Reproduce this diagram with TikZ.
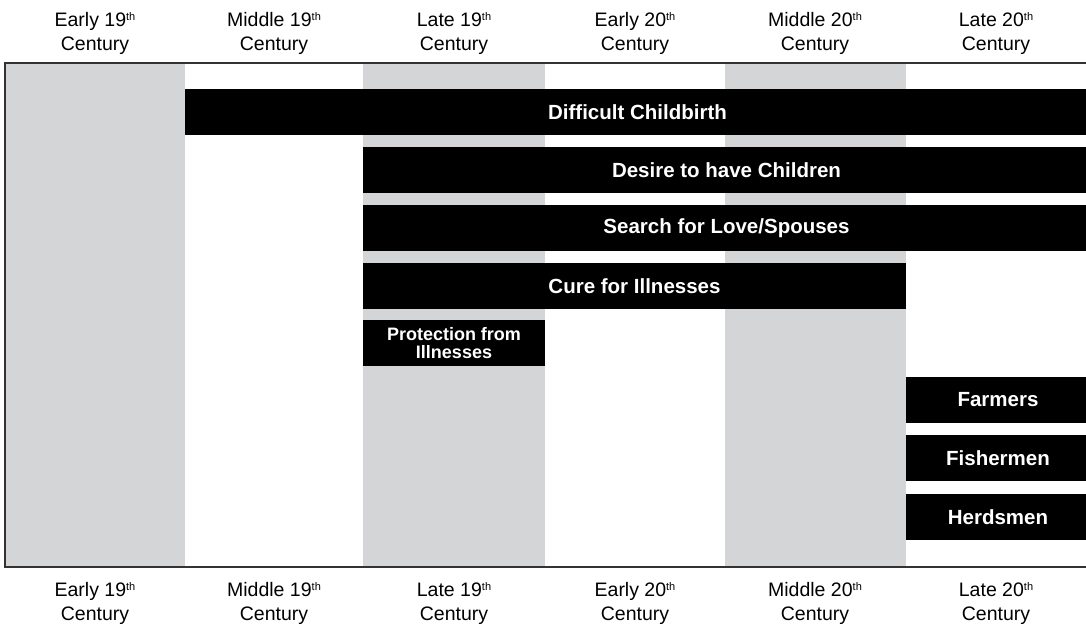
\documentclass[tikz,border=0pt]{standalone}
\usepackage{fontspec}
\setmainfont{Liberation Sans}
\definecolor{band}{HTML}{D4D5D7}
\definecolor{frame}{HTML}{333333}
\newcommand{\thsup}{\raisebox{6.5pt}{\fontsize{11}{11}\selectfont th}}
\begin{document}
\begin{tikzpicture}[x=1pt,y=-1pt,
  bar/.style={fill=black,text=white,inner sep=0pt,outer sep=0pt,anchor=north west,
    font=\fontsize{20.5}{22}\selectfont\bfseries,align=center,minimum height=46pt},
  smallbar/.style={bar,font=\fontsize{18}{18}\selectfont\bfseries},
  lab/.style={font=\fontsize{19.5}{24}\selectfont,align=center,inner sep=0pt}]
\useasboundingbox (0,0) rectangle (1086,625);
% bands
\fill[band] (5,63) rectangle (185,567);
\fill[band] (363,63) rectangle (545,567);
\fill[band] (725,63) rectangle (906,567);
% frame
\draw[frame,line width=1.5pt] (1090,63) -- (5,63) -- (5,567) -- (1090,567);
% bars
\node[bar,minimum width=905pt] (b1) at (185,89) {Difficult Childbirth};
\node[bar,minimum width=727pt] (b2) at (363,147) {Desire to have Children};
\node[bar,minimum width=727pt] (b3) at (363,205) {Search for Love/Spouses};
\node[bar,minimum width=543pt] (b4) at (363,263) {Cure for Illnesses};
\node[smallbar,minimum width=182pt] (b5) at (363,320) {Protection from\\Illnesses};
\node[bar,minimum width=184pt] (b6) at (906,377) {Farmers};
\node[bar,minimum width=184pt] (b7) at (906,435) {Fishermen};
\node[bar,minimum width=184pt] (b8) at (906,494) {Herdsmen};
% labels
\foreach \x/\t [count=\i] in {95/Early 19,274/Middle 19,454/Late 19,635/Early 20,815/Middle 20,996/Late 20}{
  \node[lab] (t\i) at (\x,33.5) {\t\thsup\\Century};
  \node[lab] (u\i) at (\x,603.5) {\t\thsup\\Century};
}
\end{tikzpicture}
\end{document}
